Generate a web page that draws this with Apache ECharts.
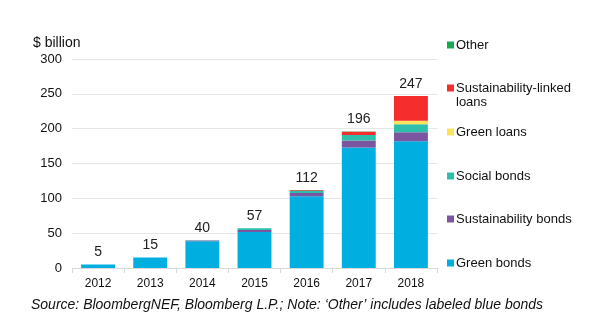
<!DOCTYPE html>
<html><head><meta charset="utf-8">
<script src="https://cdn.jsdelivr.net/npm/echarts@6/dist/echarts.min.js"></script>
<style>html,body{margin:0;padding:0;background:#fff}#c{width:616px;height:335px}</style>
</head><body><div id="c"></div>
<script>
var categories = ['2012','2013','2014','2015','2016','2017','2018'];
var greenBonds = [5, 15, 38.5, 51.5, 103, 173, 182];
var sustainabilityBonds = [0, 0, 1, 3, 4.5, 10, 13];
var socialBonds = [0, 0, 0.5, 2.5, 3, 8, 11.5];
var greenLoans = [0, 0, 0, 0, 0, 0, 5];
var sustainabilityLinkedLoans = [0, 0, 0, 0, 1, 4.5, 35.5];
var other = [0, 0, 0, 0, 0.5, 0.5, 0];
var totals = [5, 15, 40, 57, 112, 196, 247];
var yTicks = [0, 50, 100, 150, 200, 250, 300];

var names = ['Green bonds','Sustainability bonds','Social bonds','Green loans','Sustainability-linked loans','Other'];
var colors = ['#00AEDF','#7A55A0','#2EBFAC','#FDE35B','#F52D2D','#17A852'];
var dataSets = [greenBonds, sustainabilityBonds, socialBonds, greenLoans, sustainabilityLinkedLoans, other];
var legendTops = [250.5, 206.5, 163.5, 119.5, 75.5, 32.5];

var series = dataSets.map(function(d, i){
  return {
    name: names[i], type: 'bar', stack: 'total', data: d, barWidth: '65%',
    itemStyle: {color: colors[i]}, emphasis: {disabled: true}
  };
});
series.push({
  name: 'total', type: 'bar', stack: 'total', data: totals.map(function(){return 0;}),
  itemStyle: {color: 'transparent'},
  label: {show: true, position: 'top', distance: 5, color: '#222', fontSize: 14,
    fontFamily: 'Liberation Sans, Arial, sans-serif',
    formatter: function(p){ return totals[p.dataIndex]; }}
});

var legends = names.map(function(n, i){
  return {
    data: [n], left: 442, top: legendTops[i], orient: 'vertical',
    itemWidth: 7, itemHeight: 7, icon: 'rect', itemGap: 0,
    formatter: function(name){ return name === 'Sustainability-linked loans' ? 'Sustainability-linked' : name; },
    textStyle: {fontSize: 13, color: '#111', fontFamily: 'Liberation Sans, Arial, sans-serif', lineHeight: 15,
      padding: [0,0,0,-3]},
    selectedMode: false
  };
});

var chart = echarts.init(document.getElementById('c'), null, {renderer: 'canvas'});
chart.setOption({
  animation: false,
  textStyle: {fontFamily: 'Liberation Sans, Arial, sans-serif'},
  grid: {left: 72, right: 179, top: 59, bottom: 67},
  legend: legends,
  title: [{text: '$ billion', left: 28, top: 31,
    textStyle: {fontSize: 14, fontWeight: 'normal', color: '#111', fontFamily: 'Liberation Sans, Arial, sans-serif'}},
    {text: 'loans', left: 456, top: 95, padding: 0,
    textStyle: {fontSize: 13, fontWeight: 'normal', color: '#111', fontFamily: 'Liberation Sans, Arial, sans-serif', lineHeight: 15}},
    {text: 'Source: BloombergNEF, Bloomberg L.P.; Note: \u2018Other\u2019 includes labeled blue bonds', left: 26, top: 293,
    textStyle: {fontSize: 14, fontWeight: 'normal', fontStyle: 'italic', color: '#111', fontFamily: 'Liberation Sans, Arial, sans-serif'}}],
  xAxis: {
    type: 'category', data: categories,
    axisLine: {lineStyle: {color: '#d9d9d9'}},
    axisTick: {show: true, lineStyle: {color: '#d9d9d9'}, length: 5},
    axisLabel: {color: '#111', fontSize: 12, margin: 10}
  },
  yAxis: {
    type: 'value', min: yTicks[0], max: yTicks[yTicks.length-1], interval: 50,
    axisLine: {show: false}, axisTick: {show: false},
    splitLine: {lineStyle: {color: '#e6e6e6'}},
    axisLabel: {color: '#111', fontSize: 13, margin: 10}
  },
  series: series
});
</script></body></html>
